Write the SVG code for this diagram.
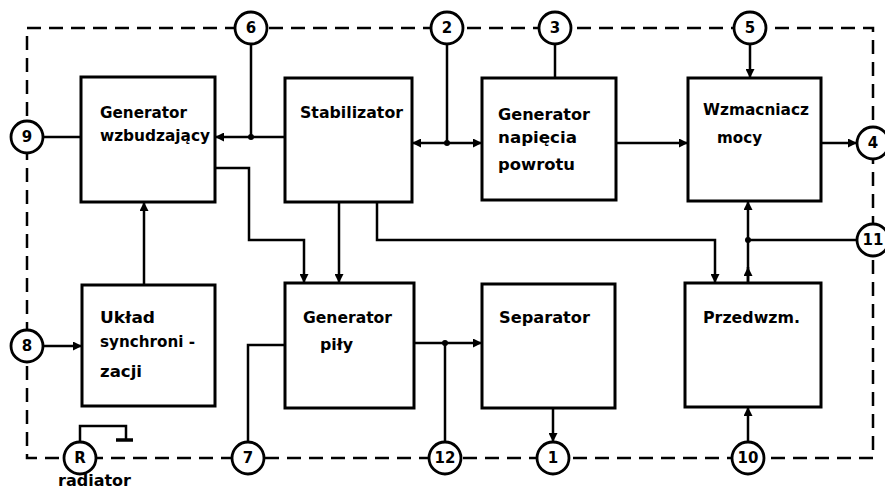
<svg xmlns="http://www.w3.org/2000/svg" width="885" height="491" viewBox="0 0 885 491">
<style>
.box{fill:#fff;stroke:#000;stroke-width:3}
.ln{fill:none;stroke:#000;stroke-width:2.5}
.dash{fill:none;stroke:#000;stroke-width:2.5;stroke-dasharray:14 8}
.pin{fill:#fff;stroke:#000;stroke-width:2.8}
.t{font-family:"DejaVu Sans","Liberation Sans",sans-serif;font-weight:bold;font-size:15px;fill:#000}
.n{font-family:"DejaVu Sans","Liberation Sans",sans-serif;font-weight:bold;font-size:15px;fill:#000;text-anchor:middle}
.dot{fill:#000}
</style>
<defs>
<marker id="ar" viewBox="0 0 10 10" refX="10" refY="5" markerWidth="12" markerHeight="9" markerUnits="userSpaceOnUse" orient="auto">
<path d="M0,0 L10,5 L0,10 Z" fill="#000"/>
</marker>
</defs>
<rect width="885" height="491" fill="#fff"/>
<rect class="dash" x="27" y="28" width="846" height="430"/>

<g id="connectors">
<path class="ln" d="M43,137 H81"/>
<path class="ln" d="M251,44 V137"/>
<path class="ln" d="M285,137 H215" marker-end="url(#ar)"/>
<path class="ln" d="M447,44 V143"/>
<path class="ln" d="M447,143 H412" marker-end="url(#ar)"/>
<path class="ln" d="M447,143 H482" marker-end="url(#ar)"/>
<path class="ln" d="M555,44 V78"/>
<path class="ln" d="M616,143 H688" marker-end="url(#ar)"/>
<path class="ln" d="M750,44 V78" marker-end="url(#ar)"/>
<path class="ln" d="M821,143 H857" marker-end="url(#ar)"/>
<path class="ln" d="M215,168 H249 V240 H304 V283" marker-end="url(#ar)"/>
<path class="ln" d="M339,202 V283" marker-end="url(#ar)"/>
<path class="ln" d="M377,202 V240 H715 V283" marker-end="url(#ar)"/>
<path class="ln" d="M857,240 H748"/>
<path class="ln" d="M748,240 V201" marker-end="url(#ar)"/>
<path class="ln" d="M748,283 V240"/>
<path class="ln" d="M748,283 V267" marker-end="url(#ar)"/>
<path class="ln" d="M43,346 H82" marker-end="url(#ar)"/>
<path class="ln" d="M144,285 V202" marker-end="url(#ar)"/>
<path class="ln" d="M248,442 V345 H285"/>
<path class="ln" d="M414,343 H482" marker-end="url(#ar)"/>
<path class="ln" d="M445,442 V343"/>
<path class="ln" d="M553,408 V442" marker-end="url(#ar)"/>
<path class="ln" d="M748,442 V407" marker-end="url(#ar)"/>
<path class="ln" d="M80,442 V426 H126 V440"/>
<path class="ln" d="M116,440 H133" style="stroke-width:3.5"/>
<circle class="dot" cx="251" cy="137" r="3"/>
<circle class="dot" cx="447" cy="143" r="3"/>
<circle class="dot" cx="748" cy="240" r="3"/>
<circle class="dot" cx="445" cy="343" r="3"/>
</g>

<g id="gen-wzbudzajacy">
<rect class="box" x="81" y="77" width="134" height="125"/>
<text class="t" x="100" y="118" textLength="87" lengthAdjust="spacingAndGlyphs">Generator</text>
<text class="t" x="100" y="141" textLength="110" lengthAdjust="spacingAndGlyphs">wzbudzający</text>
</g>
<g id="stabilizator">
<rect class="box" x="285" y="78" width="127" height="124"/>
<text class="t" x="300" y="118" textLength="103" lengthAdjust="spacingAndGlyphs">Stabilizator</text>
</g>
<g id="gen-napiecia">
<rect class="box" x="482" y="78" width="134" height="122"/>
<text class="t" x="498" y="120" textLength="92" lengthAdjust="spacingAndGlyphs">Generator</text>
<text class="t" x="498" y="143" textLength="79" lengthAdjust="spacingAndGlyphs">napięcia</text>
<text class="t" x="498" y="170" textLength="77" lengthAdjust="spacingAndGlyphs">powrotu</text>
</g>
<g id="wzmacniacz">
<rect class="box" x="688" y="78" width="133" height="123"/>
<text class="t" x="703" y="115" textLength="106" lengthAdjust="spacingAndGlyphs">Wzmacniacz</text>
<text class="t" x="717" y="143" textLength="45" lengthAdjust="spacingAndGlyphs">mocy</text>
</g>
<g id="uklad">
<rect class="box" x="82" y="285" width="133" height="121"/>
<text class="t" x="100" y="323" textLength="55" lengthAdjust="spacingAndGlyphs">Układ</text>
<text class="t" x="100" y="347" textLength="95" lengthAdjust="spacingAndGlyphs">synchroni -</text>
<text class="t" x="100" y="377" textLength="42" lengthAdjust="spacingAndGlyphs">zacji</text>
</g>
<g id="gen-pily">
<rect class="box" x="285" y="283" width="129" height="125"/>
<text class="t" x="303" y="323" textLength="89" lengthAdjust="spacingAndGlyphs">Generator</text>
<text class="t" x="320" y="350" textLength="33" lengthAdjust="spacingAndGlyphs">piły</text>
</g>
<g id="separator">
<rect class="box" x="482" y="284" width="133" height="124"/>
<text class="t" x="499" y="323" textLength="91" lengthAdjust="spacingAndGlyphs">Separator</text>
</g>
<g id="przedwzm">
<rect class="box" x="685" y="283" width="136" height="124"/>
<text class="t" x="703" y="323" textLength="97" lengthAdjust="spacingAndGlyphs">Przedwzm.</text>
</g>

<g id="pin-6"><circle class="pin" cx="251" cy="28" r="16"/><text class="n" x="251" y="33">6</text></g>
<g id="pin-2"><circle class="pin" cx="447" cy="28" r="16"/><text class="n" x="447" y="33">2</text></g>
<g id="pin-3"><circle class="pin" cx="555" cy="28" r="16"/><text class="n" x="555" y="33">3</text></g>
<g id="pin-5"><circle class="pin" cx="750" cy="28" r="16"/><text class="n" x="750" y="33">5</text></g>
<g id="pin-9"><circle class="pin" cx="27" cy="137" r="16"/><text class="n" x="27" y="142">9</text></g>
<g id="pin-4"><circle class="pin" cx="873" cy="143" r="16"/><text class="n" x="873" y="148">4</text></g>
<g id="pin-11"><circle class="pin" cx="873" cy="240" r="16"/><text class="n" x="873" y="245">11</text></g>
<g id="pin-8"><circle class="pin" cx="27" cy="346" r="16"/><text class="n" x="27" y="351">8</text></g>
<g id="pin-R"><circle class="pin" cx="80" cy="458" r="16"/><text class="n" x="80" y="463">R</text></g>
<g id="pin-7"><circle class="pin" cx="248" cy="458" r="16"/><text class="n" x="248" y="463">7</text></g>
<g id="pin-12"><circle class="pin" cx="445" cy="458" r="16"/><text class="n" x="445" y="463">12</text></g>
<g id="pin-1"><circle class="pin" cx="553" cy="458" r="16"/><text class="n" x="553" y="463">1</text></g>
<g id="pin-10"><circle class="pin" cx="748" cy="458" r="16"/><text class="n" x="748" y="463">10</text></g>
<text class="t" x="58" y="486" textLength="73" lengthAdjust="spacingAndGlyphs">radiator</text>
</svg>
